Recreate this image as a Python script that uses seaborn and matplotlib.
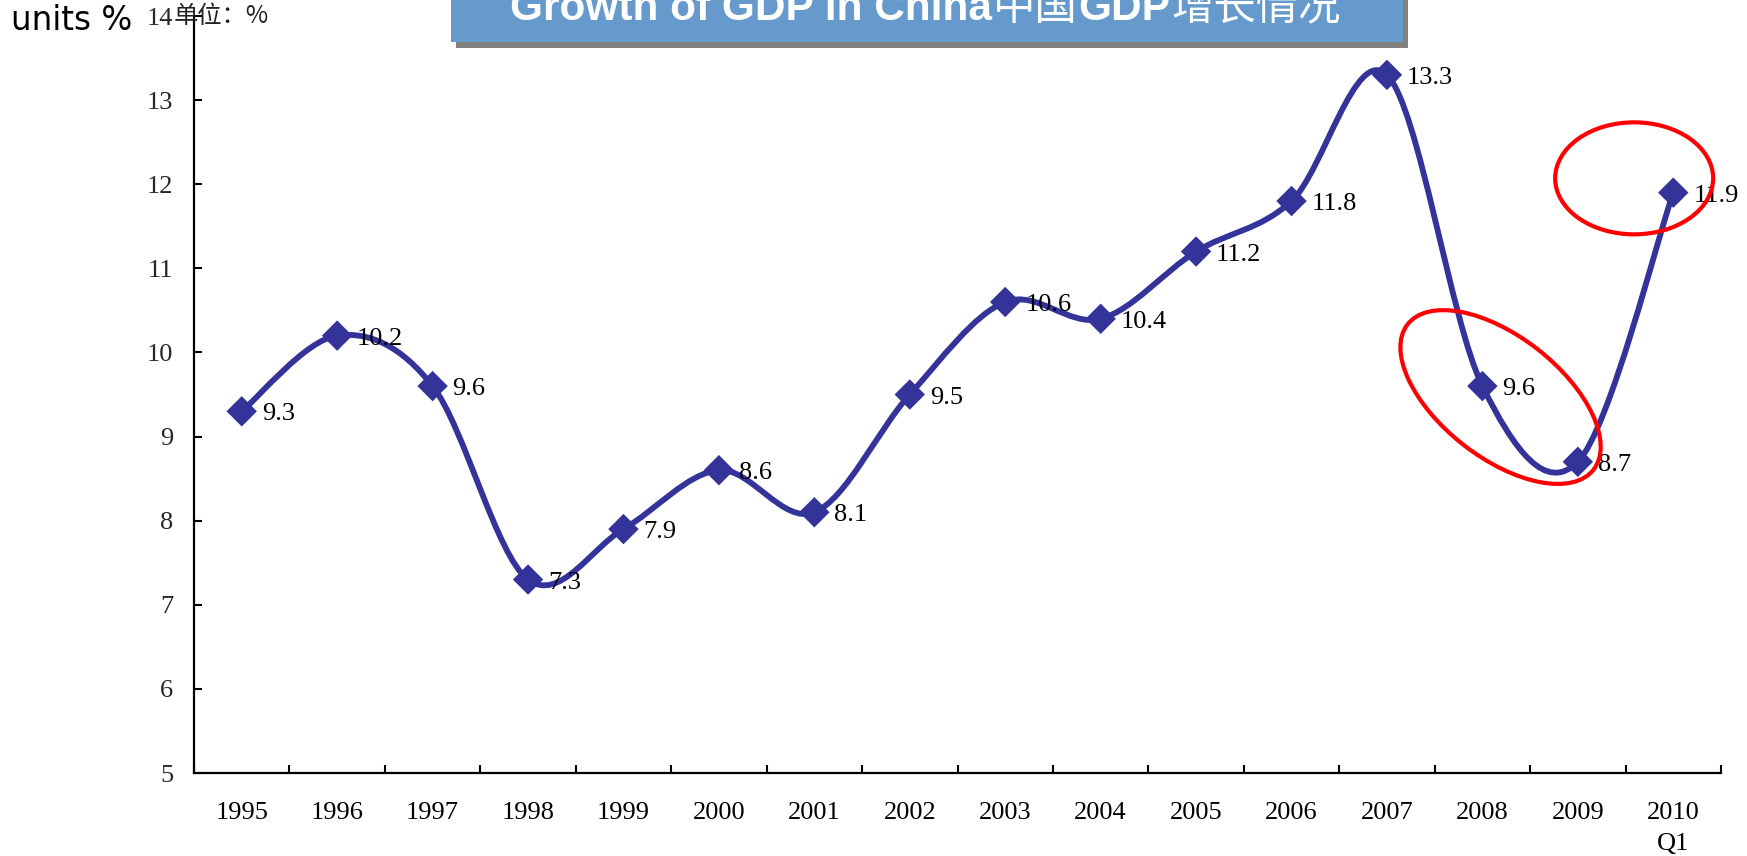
import numpy as np
import seaborn as sns
import matplotlib
matplotlib.use('Agg')
import matplotlib.pyplot as plt
from matplotlib.path import Path
from matplotlib.patches import PathPatch, Ellipse, Rectangle
from matplotlib.transforms import ScaledTranslation

# data
years = ['1995', '1996', '1997', '1998', '1999', '2000', '2001', '2002',
         '2003', '2004', '2005', '2006', '2007', '2008', '2009', '2010\nQ1']
gdp_growth = [9.3, 10.2, 9.6, 7.3, 7.9, 8.6, 8.1, 9.5,
              10.6, 10.4, 11.2, 11.8, 13.3, 9.6, 8.7, 11.9]
y_ticks = [5, 6, 7, 8, 9, 10, 11, 12, 13, 14]

W, H = 1747, 856
LINE = '#333399'


def smooth_path(xs, ys):
    """Excel-like smoothed line: cubic bezier through every point."""
    pts = np.column_stack([xs, ys]).astype(float)
    pad = np.vstack([pts[0], pts, pts[-1]])
    verts, codes = [pts[0]], [Path.MOVETO]
    for i in range(len(pts) - 1):
        p0, p1, p2, p3 = pad[i], pad[i + 1], pad[i + 2], pad[i + 3]
        verts += [p1 + (p2 - p0) / 6, p2 - (p3 - p1) / 6, p2]
        codes += [Path.CURVE4] * 3
    return Path(verts, codes)


def main():
    sns.set_theme(style='white')
    plt.rcParams['font.family'] = ['Liberation Serif', 'Noto Sans CJK SC']

    fig = plt.figure(figsize=(W / 100, H / 100), dpi=100)
    ax = fig.add_axes([194 / W, 1 - 773 / H, (1721 - 194) / W, (773 - 16) / H])

    xs = np.arange(len(years))
    ax.add_patch(PathPatch(smooth_path(xs, gdp_growth), fill=False, edgecolor=LINE,
                           lw=4.2, capstyle='round', joinstyle='round', zorder=3))
    sns.scatterplot(x=xs, y=gdp_growth, marker='D', s=240, color=LINE,
                    edgecolor='none', zorder=4, ax=ax, legend=False)

    for x, v in zip(xs, gdp_growth):
        ax.annotate(f'{v:.1f}', (x, v), xytext=(20, -3), textcoords='offset pixels',
                    ha='left', va='center', fontsize=19, color='black', zorder=5)

    # red highlight ellipses (pixel sizes, centred on data positions)
    for (cx, cy), w, h, ang in [((14.59, 12.07), 158, 112, 0),
                                ((13.19, 9.47), 236, 121, -38)]:
        ax.add_artist(Ellipse((0, 0), w, h, angle=ang, fill=False, edgecolor='#FF0000',
                              lw=3, transform=ScaledTranslation(cx, cy, ax.transData),
                              clip_on=False, zorder=6))

    ax.set_xlim(-0.5, len(years) - 0.5)
    ax.set_ylim(5, 14)
    ax.set_xticks(xs, years)
    ax.set_xticks(np.arange(-0.5, len(years), 1), minor=True)
    ax.set_yticks(y_ticks, [str(t) for t in y_ticks])
    ax.tick_params(axis='x', which='major', length=0, pad=21, labelsize=19, colors='black')
    ax.tick_params(axis='x', which='minor', direction='in', length=6, width=1.5,
                   color='black', bottom=True)
    ax.tick_params(axis='y', which='major', direction='in', length=6, width=1.5,
                   pad=15, labelsize=19, color='black', left=True)
    for lab in ax.get_xticklabels():
        lab.set_linespacing(1.5)
    sns.despine(ax=ax)
    for side in ['left', 'bottom']:
        ax.spines[side].set_color('black')
        ax.spines[side].set_linewidth(1.6)
    ax.grid(False)

    ax.annotate('单位：%', (0, 1), xycoords='axes fraction', xytext=(-20, 0),
                textcoords='offset pixels', ha='left', va='center', fontsize=17.5,
                family=['Noto Sans CJK SC', 'DejaVu Sans'], color='#222222')

    fig.text(11 / W, 1 - 30 / H, 'units %', fontsize=23.5, family='DejaVu Sans',
             va='baseline', ha='left', color='black')

    # title banner with shadow
    fig.add_artist(Rectangle((456 / W, 1 - 48 / H), 952 / W, 0.2, transform=fig.transFigure,
                             facecolor='#808080', edgecolor='none', zorder=1))
    fig.add_artist(Rectangle((451 / W, 1 - 42 / H), 952 / W, 0.2, transform=fig.transFigure,
                             facecolor='#6699CC', edgecolor='none', zorder=2))
    pieces = [('Growth of GDP in China', 'bold', 'Liberation Sans'),
              ('中国', 'normal', 'Noto Sans CJK SC'),
              ('GDP', 'bold', 'Liberation Sans'),
              ('增长情况', 'normal', 'Noto Sans CJK SC')]
    renderer = fig.canvas.get_renderer()
    x_px = 510
    for s, weight, fam in pieces:
        t = fig.text(x_px / W, 1 - 20 / H, s, fontsize=30.5, fontweight=weight,
                     family=fam, color='white', va='baseline', ha='left', zorder=3)
        x_px = t.get_window_extent(renderer).x1 + 1

    fig.savefig('out.png', dpi=100)


if __name__ == '__main__':
    main()
